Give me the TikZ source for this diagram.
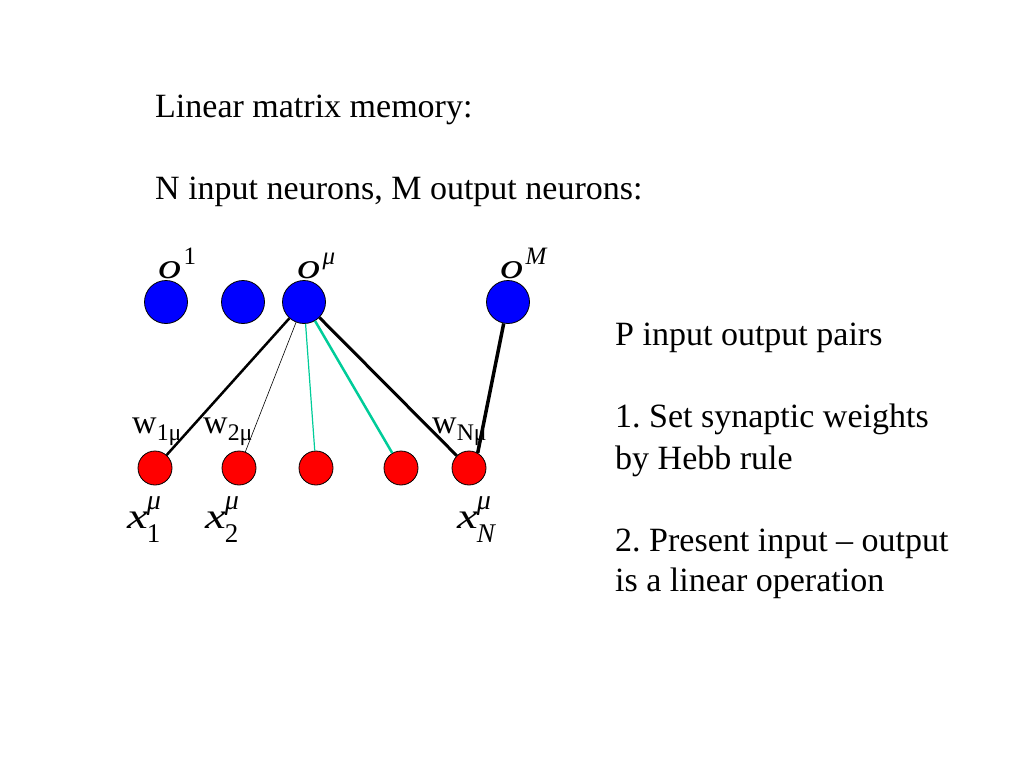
\documentclass[tikz,border=0pt]{standalone}
\usepackage{fontspec}
\usepackage{graphicx}
\setmainfont{Liberation Serif}
\usetikzlibrary{positioning}
\frenchspacing
\definecolor{synapse}{RGB}{0,204,153}
\newcommand{\olab}[1]{\scalebox{1.3}[1]{\textit{o}}\kern2pt\raisebox{14pt}{\fontsize{25}{25}\selectfont #1}}
\newcommand{\xlab}[1]{\scalebox{1.3}[1]{\textit{x}}\kern-1pt\rlap{\raisebox{19pt}{\fontsize{28}{28}\selectfont\textit{μ}}}\raisebox{-14pt}{\fontsize{27}{27}\selectfont #1}}

\begin{document}
\begin{tikzpicture}[
    x=1pt, y=-1pt,
    every node/.style={inner sep=0pt},
    outneuron/.style={
        circle, draw, line width=0.8pt,
        fill=blue, minimum size=43pt
    },
    inneuron/.style={
        circle, draw, line width=0.8pt,
        fill=red, minimum size=34pt
    },
    txt/.style={anchor=base west, font=\fontsize{34}{40}\selectfont},
    lab/.style={anchor=base west, font=\fontsize{34}{40}\selectfont},
    biglab/.style={anchor=base west, font=\fontsize{36}{42}\selectfont}
]
\useasboundingbox (0,0) rectangle (1024,768);
% texts
\node[txt] (title) at (155,117) {Linear matrix memory:};
\node[txt] (sizes) at (155,199) {N input neurons, M output neurons:};
\node[txt] (pairs) at (615,345) {P input output pairs};
\node[txt] (step1) at (615,427) {1. Set synaptic weights};
\node[txt] (step1b) at (615,469) {by Hebb rule};
\node[txt] (step2) at (615,551) {2. Present input -- output};
\node[txt] (step2b) at (615,591) {is a linear operation};
% output neurons
\node[outneuron] (o1) at (166,302) {};
\node[outneuron] (o2) at (243,302) {};
\node[outneuron] (omu) at (304,302) {};
\node[outneuron] (oM) at (508,302) {};
% input neurons
\node[inneuron] (x1) at (155,468) {};
\node[inneuron] (x2) at (239,468) {};
\node[inneuron] (x3) at (316,468) {};
\node[inneuron] (x4) at (401,468) {};
\node[inneuron] (xN) at (469,468) {};
% weights
\draw[line width=2.5pt] (omu) -- (x1);
\draw[line width=0.6pt] (omu) -- (x2);
\draw[synapse, line width=1.2pt] (omu) -- (x3);
\draw[synapse, line width=2.5pt] (omu) -- (x4);
\draw[line width=3pt] (omu) -- (xN);
\draw[line width=3.5pt] (oM) -- (xN.60);
% labels
\node[biglab] (lo1) at (158,278) {\olab{1}};
\node[biglab] (lomu) at (297,278) {\olab{\textit{μ}}};
\node[biglab] (loM) at (500,278) {\olab{\textit{M}}};
\node[lab] (w1) at (132,433) {w\textsubscript{1μ}};
\node[lab] (w2) at (203,433) {w\textsubscript{2μ}};
\node[lab] (wN) at (432,433) {w\textsubscript{Nμ}};
\node[biglab] (lx1) at (127,528) {\xlab{1}};
\node[biglab] (lx2) at (205,528) {\xlab{2}};
\node[biglab] (lxN) at (457,528) {\xlab{\textit{N}}};
\end{tikzpicture}
\end{document}
